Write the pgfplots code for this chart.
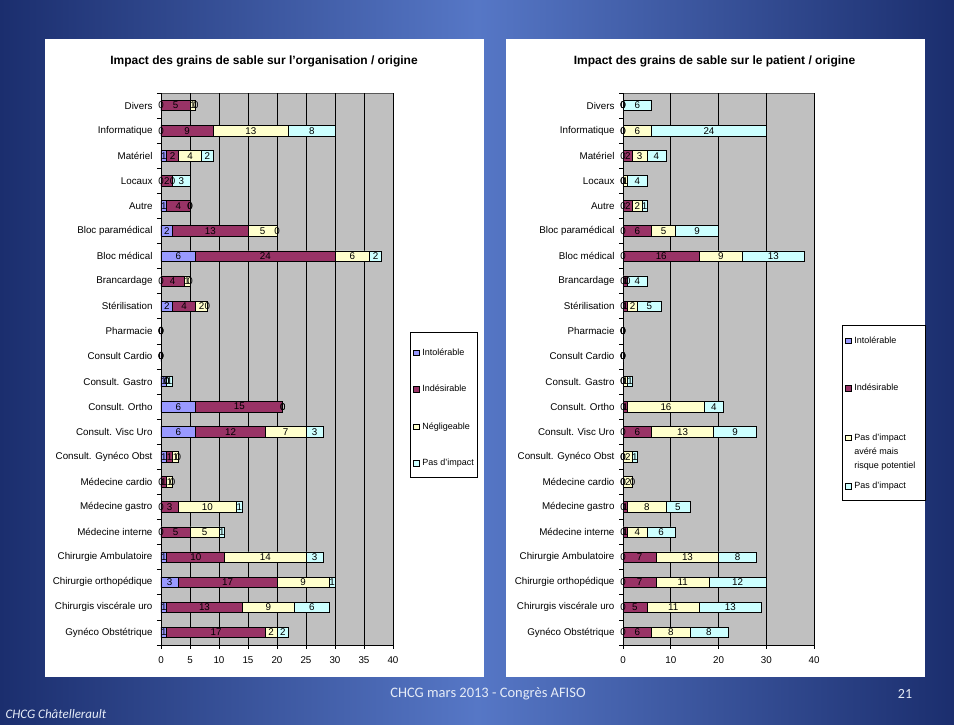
\documentclass[border=0pt]{standalone}
\usepackage{pgfplots}
\pgfplotsset{compat=1.18}
\usepackage{pgfplotstable}
\usepackage{fontspec}
\setmainfont{Liberation Sans}
\newfontfamily\footfont{Carlito}
\definecolor{cI}{HTML}{9999FF}
\definecolor{cD}{HTML}{993366}
\definecolor{cN}{HTML}{FFFFCC}
\definecolor{cP}{HTML}{CCFFFF}
\definecolor{plotgray}{HTML}{C0C0C0}
\definecolor{bgdark}{HTML}{1B2E6E}
\definecolor{bglight}{HTML}{5677C6}
\definecolor{foottext}{HTML}{E6ECF7}
\newcommand\tickfont{\fontsize{9.8}{11}\selectfont}
\newcommand\legfont{\fontsize{9}{11}\selectfont}
\newcommand\hstrut[1]{\rule{0pt}{#1}}

% organisation: Intolerable, Indesirable, Negligeable, Pas d'impact
\pgfplotstableread{
pos I D N P
22 0 5 1 0
21 0 9 13 8
20 1 2 4 2
19 0 2 0 3
18 1 4 0 0
17 2 13 5 0
16 6 24 6 2
15 0 4 1 0
14 2 4 2 0
13 0 0 0 0
12 0 0 0 0
11 1 0 0 1
10 6 15 0 0
9 6 12 7 3
8 1 1 1 0
7 0 1 1 0
6 0 3 10 1
5 0 5 5 1
4 1 10 14 3
3 3 17 9 1
2 1 13 9 6
1 1 17 2 2
}\orgdata

% patient
\pgfplotstableread{
pos I D N P
22 0 0 0 6
21 0 0 6 24
20 0 2 3 4
19 0 0 1 4
18 0 2 2 1
17 0 6 5 9
16 0 16 9 13
15 0 1 0 4
14 0 1 2 5
13 0 0 0 0
12 0 0 0 0
11 0 0 1 1
10 0 1 16 4
9 0 6 13 9
8 0 0 2 1
7 0 0 2 0
6 0 1 8 5
5 0 1 4 6
4 0 7 13 8
3 0 7 11 12
2 0 5 11 13
1 0 6 8 8
}\patdata

\pgfplotsset{
  mybar/.style={xbar, bar shift=0pt, bar width=10.5pt, draw=black, line width=0.6pt,
    legend image code/.code={\draw[##1, line width=0.6pt] (0pt,0pt) rectangle (5.5pt,5.5pt);}},
  lbl/.style={forget plot, only marks, mark=*, mark size=0pt, mark options={draw=none,fill=none},
    nodes near coords, point meta=explicit symbolic,
    every node near coord/.style={anchor=center, font=\tickfont, inner sep=0pt, text=black}},
  common/.style={
    scale only axis, height=552pt,
    xmin=0, xmax=40, ymin=0.5, ymax=22.5,
    axis x line*=bottom, axis y line*=left,
    axis line style={black, line width=0.7pt},
    axis background/.style={fill=plotgray, draw=gray!70!black},
    xmajorgrids, major grid style={black, line width=0.7pt},
    tick align=outside, major tick length=4pt,
    tick style={black, line width=0.7pt},
    tick label style={font=\tickfont},
    xticklabel style={yshift=-4pt},
    /pgf/number format/assume math mode=true,
    ytick={0.5,1.5,...,22.5}, yticklabels={},
    extra y ticks={1,...,22},
    extra y tick style={major tick length=0pt},
    extra y tick labels={Gynéco Obstétrique, Chirurgis viscérale uro, Chirurgie orthopédique, Chirurgie Ambulatoire, Médecine interne, Médecine gastro, Médecine cardio, Consult. Gynéco Obst, Consult. Visc Uro, Consult. Ortho, Consult. Gastro, Consult Cardio, Pharmacie, Stérilisation, Brancardage, Bloc médical, Bloc paramédical, Autre, Locaux, Matériel, Informatique, Divers},
    yticklabel style={xshift=-5pt},
    reverse legend,
    legend style={anchor=north west, draw=black, fill=white, line width=0.6pt,
      inner xsep=3pt, inner ysep=10pt, row sep=0pt, column sep=3pt,
      nodes={inner sep=0pt, font=\legfont}, cells={anchor=base west}},
  },
}

\begin{document}
\begin{tikzpicture}
\useasboundingbox (0pt,0pt) rectangle (954pt,725pt);
\shade[left color=bgdark, right color=bgdark, middle color=bglight] (0pt,0pt) rectangle (954pt,725pt);
\fill[white] (45pt,48pt) rectangle (484pt,686pt);
\fill[white] (506pt,48pt) rectangle (925pt,686pt);

\node[font=\bfseries\fontsize{12}{14}\selectfont] at (264pt,663.5pt) {Impact des grains de sable sur l'organisation / origine};
\node[font=\bfseries\fontsize{12}{14}\selectfont] at (714.5pt,663.5pt) {Impact des grains de sable sur le patient / origine};

\begin{axis}[common, at={(161pt,80pt)}, anchor=south west, width=232pt,
  xtick={0,5,...,40},
  legend style={at={(1.0733,0.567)}}]
\addplot[mybar, fill=cP] table[x expr=\thisrow{I}+\thisrow{D}+\thisrow{N}+\thisrow{P}, y=pos]{\orgdata};
\addplot[mybar, fill=cN] table[x expr=\thisrow{I}+\thisrow{D}+\thisrow{N}, y=pos]{\orgdata};
\addplot[mybar, fill=cD] table[x expr=\thisrow{I}+\thisrow{D}, y=pos]{\orgdata};
\addplot[mybar, fill=cI] table[x=I, y=pos]{\orgdata};
\addplot[lbl] table[x expr=\thisrow{I}/2, y=pos, meta=I]{\orgdata};
\addplot[lbl] table[x expr=\thisrow{I}+\thisrow{D}/2, y=pos, meta=D]{\orgdata};
\addplot[lbl] table[x expr=\thisrow{I}+\thisrow{D}+\thisrow{N}/2, y=pos, meta=N]{\orgdata};
\addplot[lbl] table[x expr=\thisrow{I}+\thisrow{D}+\thisrow{N}+\thisrow{P}/2, y=pos, meta=P]{\orgdata};
\legend{\hstrut{35pt}Pas d'impact, \hstrut{36pt}Négligeable, \hstrut{35pt}Indésirable, \hstrut{13pt}Intolérable}
\end{axis}

\begin{axis}[common, at={(623pt,80pt)}, anchor=south west, width=191pt,
  xtick={0,10,...,40},
  legend style={at={(1.1466,0.5797)}}]
\addplot[mybar, fill=cP] table[x expr=\thisrow{I}+\thisrow{D}+\thisrow{N}+\thisrow{P}, y=pos]{\patdata};
\addplot[mybar, fill=cN] table[x expr=\thisrow{I}+\thisrow{D}+\thisrow{N}, y=pos]{\patdata};
\addplot[mybar, fill=cD] table[x expr=\thisrow{I}+\thisrow{D}, y=pos]{\patdata};
\addplot[mybar, fill=cI] table[x=I, y=pos]{\patdata};
\addplot[lbl] table[x expr=\thisrow{I}/2, y=pos, meta=I]{\patdata};
\addplot[lbl] table[x expr=\thisrow{I}+\thisrow{D}/2, y=pos, meta=D]{\patdata};
\addplot[lbl] table[x expr=\thisrow{I}+\thisrow{D}+\thisrow{N}/2, y=pos, meta=N]{\patdata};
\addplot[lbl] table[x expr=\thisrow{I}+\thisrow{D}+\thisrow{N}+\thisrow{P}/2, y=pos, meta=P]{\patdata};
\legend{\hstrut{47pt}Pas d'impact, \hstrut{48pt}\parbox[t]{68pt}{\legfont\baselineskip=14pt Pas d'impact\\avéré mais\\risque potentiel}, \hstrut{46pt}Indésirable, \hstrut{8pt}Intolérable}
\end{axis}

\node[font=\footfont\fontsize{14.5}{16}\selectfont, text=foottext] at (488pt,31pt) {CHCG mars 2013 - Congrès AFISO};
\node[font=\footfont\fontsize{14}{16}\selectfont, text=foottext] at (905pt,31pt) {21};
\node[font=\footfont\itshape\fontsize{13}{15}\selectfont, text=foottext, anchor=west] at (2pt,11pt) {CHCG Châtellerault};
\end{tikzpicture}
\end{document}
